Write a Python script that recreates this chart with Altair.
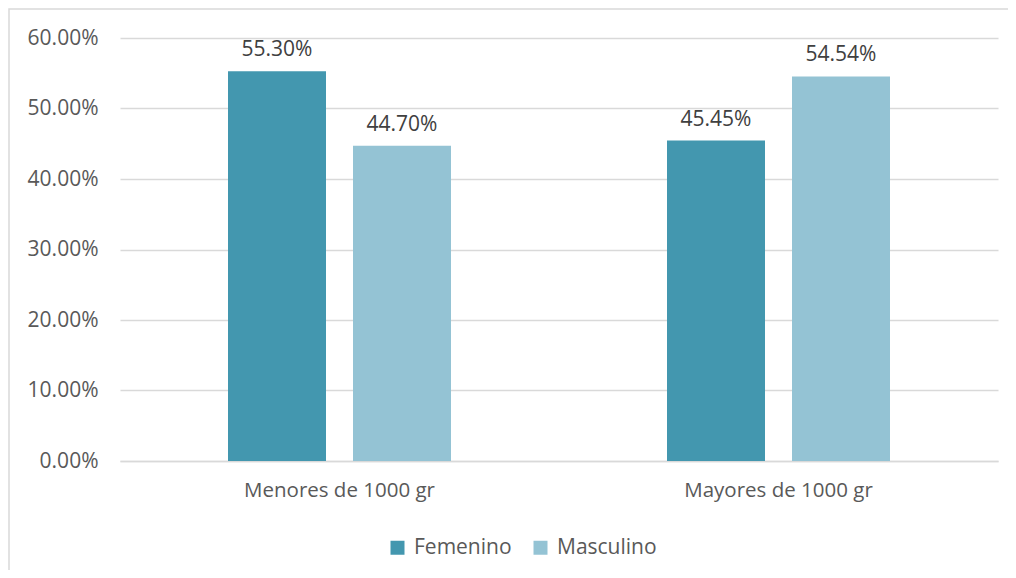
import altair as alt
import pandas as pd

categories = ["Menores de 1000 gr", "Menores de 1000 gr", "Mayores de 1000 gr", "Mayores de 1000 gr"]
series = ["Femenino", "Masculino", "Femenino", "Masculino"]
values = [0.5530, 0.4470, 0.4545, 0.5454]
labels = ["55.30%", "44.70%", "45.45%", "54.54%"]

cat_order = ["Menores de 1000 gr", "Mayores de 1000 gr"]
ser_order = ["Femenino", "Masculino"]
colors = ["#4397AF", "#94C3D4"]

df = pd.DataFrame({"cat": categories, "serie": series, "val": values, "lab": labels})

FONT = "Open Sans"
TXT = "#595959"

x = alt.X("cat:N", sort=cat_order, title=None,
          scale=alt.Scale(paddingInner=0, paddingOuter=0),
          axis=alt.Axis(labelAngle=0, ticks=False, labelPadding=19, labelFontSize=20.5,
                        labelLimit=500,
                        labelColor=TXT, labelFont=FONT, domainColor="#d9d9d9", domainWidth=1.5,
                        grid=False))
xo = alt.XOffset("serie:N", sort=ser_order,
                 scale=alt.Scale(paddingInner=0.216, paddingOuter=0.864))
y = alt.Y("val:Q", title=None,
          scale=alt.Scale(domain=[0, 0.6]),
          axis=alt.Axis(format=".2%", values=[0, 0.1, 0.2, 0.3, 0.4, 0.5, 0.6], domain=False, ticks=False,
                        labelPadding=22, labelFontSize=21, labelColor=TXT, labelFont=FONT,
                        gridColor="#d9d9d9", gridWidth=1.5))

border = alt.Chart(pd.DataFrame({"a": [0]})).mark_rect(
    fill=None, stroke="#d9d9d9", strokeWidth=1.5
).encode(x=alt.value(-111), x2=alt.value(900), y=alt.value(-29), y2=alt.value(600))

bars = alt.Chart(df).mark_bar().encode(
    x=x, xOffset=xo, y=y,
    color=alt.Color("serie:N", sort=ser_order, scale=alt.Scale(domain=ser_order, range=colors),
                    legend=alt.Legend(title=None, orient="none", legendX=267, legendY=499,
                                      direction="horizontal", symbolType="square", symbolSize=196,
                                      symbolStrokeWidth=0, labelFontSize=21, labelColor=TXT,
                                      labelFont=FONT, columnPadding=18, symbolOpacity=1,
                                      labelOffset=6)),
)

text = alt.Chart(df).mark_text(baseline="bottom", dy=-11, fontSize=21, font=FONT, color="#404040").encode(
    x=x, xOffset=xo, y=y, text="lab:N"
)

chart = alt.layer(border, bars, text).properties(
    width=878, height=423,
    autosize=alt.AutoSizeParams(type="none"),
    padding={"left": 112, "top": 30, "right": 10, "bottom": 109},
).configure_view(stroke=None)

chart.save("out.html", embed_options={"renderer": "svg", "actions": False})
